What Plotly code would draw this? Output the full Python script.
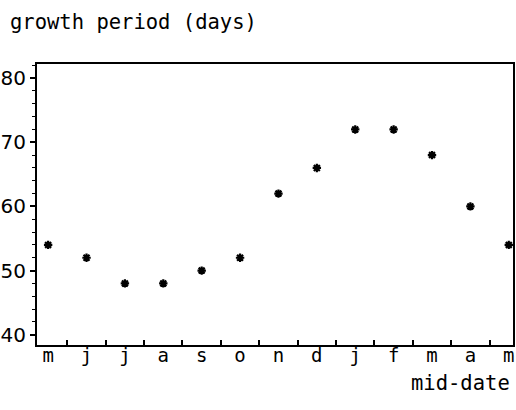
import plotly.graph_objects as go

months = ["m", "j", "j", "a", "s", "o", "n", "d", "j", "f", "m", "a", "m"]
growth_days = [54, 52, 48, 48, 50, 52, 62, 66, 72, 72, 68, 60, 54]
y_ticks = [40, 50, 60, 70, 80]

idx = list(range(len(months)))
mono = "DejaVu Sans Mono"

L, R, T, B = 37, 3, 64, 65
W, H = 516, 410

fig = go.Figure()
fig.add_trace(go.Scatter(
    x=idx, y=growth_days, mode="markers",
    marker=dict(symbol="asterisk-open", size=7, color="black",
                line=dict(color="black", width=2.2)),
    showlegend=False, hoverinfo="skip", cliponaxis=False))
# invisible trace on xaxis2 for between-category ticks
fig.add_trace(go.Scatter(x=[idx[0]], y=[growth_days[0]], xaxis="x2",
                         mode="markers", marker=dict(opacity=0),
                         showlegend=False, hoverinfo="skip"))

xr = [-0.29, len(months) - 1 + 0.11]
fig.update_layout(
    width=W, height=H,
    margin=dict(l=L, r=R, t=T, b=B, autoexpand=False),
    paper_bgcolor="white", plot_bgcolor="white",
    xaxis=dict(range=xr, tickvals=idx, ticktext=months, ticks="",
               showgrid=False, zeroline=False, showline=True,
               linecolor="black", linewidth=2, mirror=True,
               tickfont=dict(family=mono, size=19, color="black"),
               ticklabelstandoff=-8, automargin=False),
    xaxis2=dict(range=xr, overlaying="x", side="bottom",
                tickvals=[i + 0.5 for i in idx[:-1]], ticks="inside",
                ticklen=5, tickwidth=1.5, tickcolor="black",
                showticklabels=False, showgrid=False, zeroline=False),
    yaxis=dict(range=[38.4, 82.2], tickvals=y_ticks, ticks="outside",
               ticklen=5, tickwidth=1.5, tickcolor="black",
               minor=dict(dtick=2, ticks="outside", ticklen=3,
                          tickwidth=1.2, tickcolor="black"),
               showgrid=False, zeroline=False, showline=True,
               linecolor="black", linewidth=2, mirror=True,
               tickfont=dict(family="DejaVu Sans", size=20, color="black"),
               ticklabelstandoff=0, automargin=False),
)

pw = W - L - R
ph = H - T - B
def px_to_paper(x, y):
    return (x - L) / pw, (H - y - B) / ph

ax, ay = px_to_paper(8, 22)
bx, by = px_to_paper(512, 383)
fig.add_annotation(text="growth period (days)", x=ax, y=ay, xref="paper",
                   yref="paper", showarrow=False,
                   font=dict(family=mono, size=20.5, color="black"),
                   xanchor="left", yanchor="middle")
fig.add_annotation(text="mid-date", x=bx, y=by, xref="paper",
                   yref="paper", showarrow=False,
                   font=dict(family=mono, size=20.5, color="black"),
                   xanchor="right", yanchor="middle")

fig.write_html("out.html",
               config={"displayModeBar": False},
               post_script="document.body.style.margin='0';"
                           "document.body.style.overflow='hidden';")
